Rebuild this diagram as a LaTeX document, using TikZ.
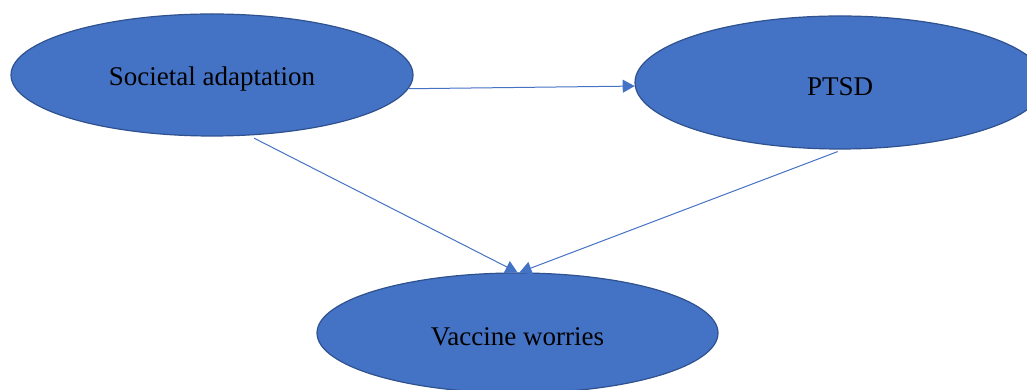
\documentclass[tikz,border=0pt]{standalone}
\usepackage{fontspec}
\setmainfont{Liberation Serif}
\usetikzlibrary{shapes.geometric,arrows.meta}
\definecolor{nodefill}{HTML}{4472C4}
\definecolor{nodeline}{HTML}{2F528F}
\definecolor{arrowcol}{HTML}{4472C4}
\newcommand{\lowtext}[1]{\raisebox{-4pt}[\height][\depth]{#1}}
\begin{document}
\begin{tikzpicture}[x=1pt,y=1pt,
  oval/.style={ellipse, draw=nodeline, fill=nodefill, line width=1.2pt, inner sep=0pt,
     font=\fontsize{27}{32}\selectfont, text=black},
  link/.style={draw=arrowcol, line width=1pt, -{Triangle[length=12pt,width=13pt]}}]
\useasboundingbox (0,0) rectangle (1027,390);
\begin{scope}
\clip (0,0) rectangle (1027,390);
\node[oval, minimum width=402pt, minimum height=122pt] (a) at (212,315) {\lowtext{Societal adaptation}};
\node[oval, minimum width=410pt, minimum height=133pt] (b) at (840,307.5) {\lowtext{PTSD}};
\node[oval, minimum width=401pt, minimum height=120pt] (c) at (517.5,57) {\lowtext{Vaccine worries}};
\end{scope}
\draw[link] (a.-4) -- (b.181);
\draw[link] ([yshift=-3pt]a.-55) -- ([xshift=0pt]c.north);
\draw[link] ([yshift=-2pt]b.268) -- ([xshift=2pt]c.north);
\end{tikzpicture}
\end{document}
